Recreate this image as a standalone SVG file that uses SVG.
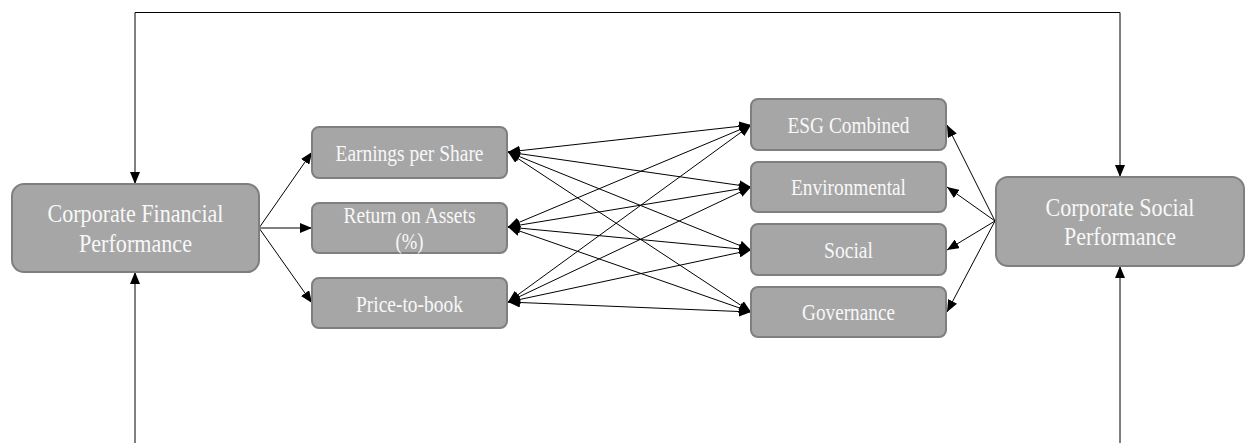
<svg xmlns="http://www.w3.org/2000/svg" width="1252" height="443" viewBox="0 0 1252 443">
<style>
.box{fill:#a6a6a6;stroke:#7f7f7f;stroke-width:2}
.t{fill:#f8f8f8;font-family:"Liberation Serif","Times New Roman",serif;text-anchor:middle}
.big{font-size:25px}
.sm{font-size:23px}
.c{fill:none;stroke:#000;stroke-width:1}
</style>
<defs>
<marker id="ah" markerUnits="userSpaceOnUse" markerWidth="12" markerHeight="10" refX="12" refY="5" orient="auto-start-reverse" viewBox="0 0 12 10">
<path d="M0,0 L12,5 L0,10 z" fill="#000"/>
</marker>
</defs>
<g id="connectors">
<path class="c" d="M135,184 V12.5 H1120 V177" marker-start="url(#ah)" marker-end="url(#ah)"/>
<path class="c" d="M135,443 V272" marker-end="url(#ah)"/>
<path class="c" d="M1120,443 V266" marker-end="url(#ah)"/>
<path class="c" d="M259,228 L312,152" marker-end="url(#ah)"/>
<path class="c" d="M259,228 L312,228" marker-end="url(#ah)"/>
<path class="c" d="M259,228 L312,303" marker-end="url(#ah)"/>
<path class="c" d="M508,152 L751,125" marker-start="url(#ah)" marker-end="url(#ah)"/>
<path class="c" d="M508,152 L751,187" marker-start="url(#ah)" marker-end="url(#ah)"/>
<path class="c" d="M508,152 L751,250" marker-start="url(#ah)" marker-end="url(#ah)"/>
<path class="c" d="M508,152 L751,312" marker-start="url(#ah)" marker-end="url(#ah)"/>
<path class="c" d="M508,227 L751,125" marker-start="url(#ah)" marker-end="url(#ah)"/>
<path class="c" d="M508,227 L751,187" marker-start="url(#ah)" marker-end="url(#ah)"/>
<path class="c" d="M508,227 L751,250" marker-start="url(#ah)" marker-end="url(#ah)"/>
<path class="c" d="M508,227 L751,312" marker-start="url(#ah)" marker-end="url(#ah)"/>
<path class="c" d="M508,302 L751,125" marker-start="url(#ah)" marker-end="url(#ah)"/>
<path class="c" d="M508,302 L751,187" marker-start="url(#ah)" marker-end="url(#ah)"/>
<path class="c" d="M508,302 L751,250" marker-start="url(#ah)" marker-end="url(#ah)"/>
<path class="c" d="M508,302 L751,312" marker-start="url(#ah)" marker-end="url(#ah)"/>
<path class="c" d="M995,221 L947,125" marker-end="url(#ah)"/>
<path class="c" d="M995,221 L947,187" marker-end="url(#ah)"/>
<path class="c" d="M995,221 L947,250" marker-end="url(#ah)"/>
<path class="c" d="M995,221 L947,312" marker-end="url(#ah)"/>
</g>
<g id="cfp">
<rect class="box" x="12" y="184" width="247" height="88" rx="12"/>
<text class="t big" x="135.5" y="222" textLength="176" lengthAdjust="spacingAndGlyphs">Corporate Financial</text>
<text class="t big" x="135.5" y="252" textLength="113" lengthAdjust="spacingAndGlyphs">Performance</text>
</g>
<g id="eps">
<rect class="box" x="312" y="127" width="195" height="51" rx="7"/>
<text class="t sm" x="409.5" y="161" textLength="148" lengthAdjust="spacingAndGlyphs">Earnings per Share</text>
</g>
<g id="roa">
<rect class="box" x="312" y="203" width="195" height="50" rx="7"/>
<text class="t sm" x="409.5" y="222.5" textLength="132" lengthAdjust="spacingAndGlyphs">Return on Assets</text>
<text class="t sm" x="409.5" y="249" textLength="28" lengthAdjust="spacingAndGlyphs">(%)</text>
</g>
<g id="ptb">
<rect class="box" x="312" y="278" width="195" height="50" rx="7"/>
<text class="t sm" x="409.5" y="311.5" textLength="107" lengthAdjust="spacingAndGlyphs">Price-to-book</text>
</g>
<g id="esg">
<rect class="box" x="751" y="99" width="195" height="51" rx="7"/>
<text class="t sm" x="848.5" y="133" textLength="122" lengthAdjust="spacingAndGlyphs">ESG Combined</text>
</g>
<g id="env">
<rect class="box" x="751" y="162" width="195" height="50" rx="7"/>
<text class="t sm" x="848.5" y="195" textLength="115" lengthAdjust="spacingAndGlyphs">Environmental</text>
</g>
<g id="soc">
<rect class="box" x="751" y="224" width="195" height="51" rx="7"/>
<text class="t sm" x="848.5" y="257.5" textLength="49" lengthAdjust="spacingAndGlyphs">Social</text>
</g>
<g id="gov">
<rect class="box" x="751" y="287" width="195" height="50" rx="7"/>
<text class="t sm" x="848.5" y="320" textLength="93" lengthAdjust="spacingAndGlyphs">Governance</text>
</g>
<g id="csp">
<rect class="box" x="996" y="177" width="248" height="89" rx="12"/>
<text class="t big" x="1120" y="215.5" textLength="149" lengthAdjust="spacingAndGlyphs">Corporate Social</text>
<text class="t big" x="1120" y="245" textLength="112" lengthAdjust="spacingAndGlyphs">Performance</text>
</g>
</svg>
